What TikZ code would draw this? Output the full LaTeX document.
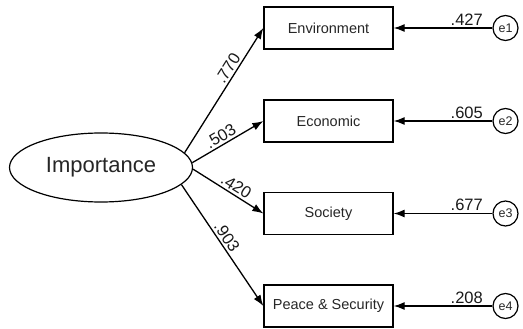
\documentclass[tikz,border=0pt]{standalone}
\usepackage{fontspec}
\setmainfont{Liberation Sans}
\usetikzlibrary{arrows.meta, shapes.geometric}
\tikzset{>={Latex[length=11pt,width=8pt]}}
\tikzset{
	latent/.style = {draw, ellipse, line width=1.2pt, minimum width=183pt, minimum height=69pt, inner sep=0pt, text=black!85, font=\fontsize{22}{24}\selectfont},
	obs/.style = {draw, rectangle, line width=1.3pt, minimum width=129pt, minimum height=42pt, inner sep=0pt, text=black!85, font=\fontsize{14.5}{16}\selectfont},
	err/.style = {draw, circle, line width=1.2pt, minimum size=25pt, inner sep=0pt, text=black!85, font=\fontsize{12.5}{14}\selectfont},
	coef/.style = {inner sep=2pt, text=black!90, font=\fontsize{16.5}{18}\selectfont}
}

\begin{document}
\begin{tikzpicture}[x=1pt, y=-1pt, line width=1.3pt]
	\useasboundingbox (0,0) rectangle (523,329);
	\node (imp) at (101,167.5) [latent] {Importance};
	\node (env) at (328.5,28) [obs] {Environment};
	\node (eco) at (328.5,121) [obs] {Economic};
	\node (soc) at (328.5,213.5) [obs] {Society};
	\node (pea) at (328.5,306) [obs] {Peace \& Security};
	\node (e1) at (505.5,28) [err] {e1};
	\node (e2) at (505.5,121) [err] {e2};
	\node (e3) at (505.5,213.5) [err] {e3};
	\node (e4) at (505.5,306) [err] {e4};
	\draw[->] (imp.10.7) -- node[coef, pos=0.64, sloped, above] {.770} (env.west);
	\draw[->] (imp.3.6) -- node[coef, pos=0.46, sloped, above] {.503} (eco.west);
	\draw[->] (imp.-1.6) -- node[coef, pos=0.55, sloped, above] {.420} (soc.west);
	\draw[->] (imp.-12) -- node[coef, pos=0.47, sloped, above] {.903} (pea.west);
	\draw[->] (e1) -- node[coef, pos=0.26, above] {.427} (env);
	\draw[->] (e2) -- node[coef, pos=0.26, above] {.605} (eco);
	\draw[->] (e3) -- node[coef, pos=0.26, above] {.677} (soc);
	\draw[->] (e4) -- node[coef, pos=0.26, above] {.208} (pea);
\end{tikzpicture}
\end{document}
